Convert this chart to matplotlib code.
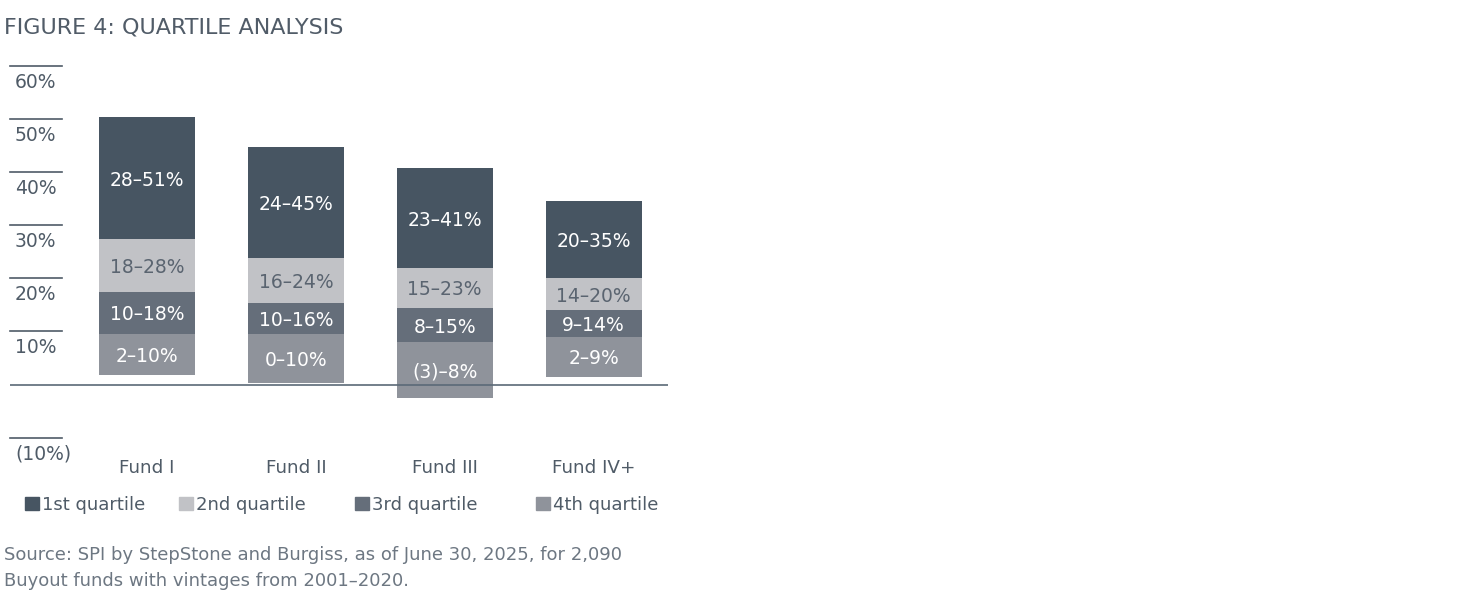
import matplotlib.pyplot as plt
import matplotlib.transforms as mtransforms
from matplotlib.patches import Rectangle
import numpy as np

plt.rcParams['font.family'] = ['DejaVu Sans']

# data (percent)
funds = ['Fund I', 'Fund II', 'Fund III', 'Fund IV+']
q4_low = [1.8, 0.3, -2.5, 1.5]
q4_high = [9.6, 9.5, 8.0, 9.0]
q3_high = [17.5, 15.3, 14.4, 14.0]
q2_high = [27.4, 23.8, 22.0, 20.1]
q1_high = [50.4, 44.8, 40.7, 34.6]

q1_labels = ['28–51%', '24–45%', '23–41%', '20–35%']
q2_labels = ['18–28%', '16–24%', '15–23%', '14–20%']
q3_labels = ['10–18%', '10–16%', '8–15%', '9–14%']
q4_labels = ['2–10%', '0–10%', '(3)–8%', '2–9%']

series_names = ['1st quartile', '2nd quartile', '3rd quartile', '4th quartile']
yticks = [60, 50, 40, 30, 20, 10, -10]
ytick_labels = ['60%', '50%', '40%', '30%', '20%', '10%', '(10%)']

c_q1 = '#475562'
c_q2 = '#c1c2c6'
c_q3 = '#656e7a'
c_q4 = '#8f939b'
txt = '#4f5b67'

W, H = 1468, 605
fig = plt.figure(figsize=(W / 100, H / 100), dpi=100)
ax = fig.add_axes([10 / W, (H - 445) / H, 658 / W, 385 / H])
ax.set_xlim(-0.92, 3.5)
ax.set_ylim(-11.39, 61.1)
ax.axis('off')

x = np.arange(len(funds))
bw = 0.645
segments = [
    (q4_low, q4_high, c_q4, q4_labels, 'white'),
    (q4_high, q3_high, c_q3, q3_labels, 'white'),
    (q3_high, q2_high, c_q2, q2_labels, '#5a6470'),
    (q2_high, q1_high, c_q1, q1_labels, 'white'),
]
for lo, hi, col, labs, tc in segments:
    lo = np.array(lo)
    hi = np.array(hi)
    ax.bar(x, hi - lo, bottom=lo, width=bw, color=col, edgecolor='none')
    for i in range(len(x)):
        ax.text(x[i], (lo[i] + hi[i]) / 2 - 0.4, labs[i], ha='center', va='center',
                fontsize=13.5, color=tc)

ax.axhline(0, color='#5b6977', lw=1.2)

# y ticks: short line with label below it
trans = mtransforms.blended_transform_factory(ax.transAxes, ax.transData)
for v, lab in zip(yticks, ytick_labels):
    ax.plot([0, 52 / 658], [v, v], color=txt, lw=1.2, transform=trans, clip_on=False)
    ax.text(5 / 658, v - 4.15, lab, ha='left', va='baseline', fontsize=13.5,
            color=txt, transform=trans)

for i, f in enumerate(funds):
    ax.text(x[i], -16.7, f, ha='center', va='baseline', fontsize=13.2,
            color=txt, clip_on=False)

# legend
leg_x = [25, 179, 355, 536]
for xp, name, col in zip(leg_x, series_names, [c_q1, c_q2, c_q3, c_q4]):
    fig.patches.append(Rectangle((xp / W, (H - 510) / H), 14 / W, 13 / H,
                                 color=col, transform=fig.transFigure))
    fig.text((xp + 17) / W, (H - 510) / H, name, ha='left', va='baseline',
             fontsize=13, color=txt)

fig.text(4 / W, (H - 33) / H, 'FIGURE 4: QUARTILE ANALYSIS', ha='left',
         va='baseline', fontsize=16, color='#515c68')
fig.text(4 / W, (H - 560) / H,
         'Source: SPI by StepStone and Burgiss, as of June 30, 2025, for 2,090',
         ha='left', va='baseline', fontsize=13, color='#6d7782')
fig.text(4 / W, (H - 586) / H, 'Buyout funds with vintages from 2001–2020.',
         ha='left', va='baseline', fontsize=13, color='#6d7782')

fig.savefig('out.png', dpi=100)
